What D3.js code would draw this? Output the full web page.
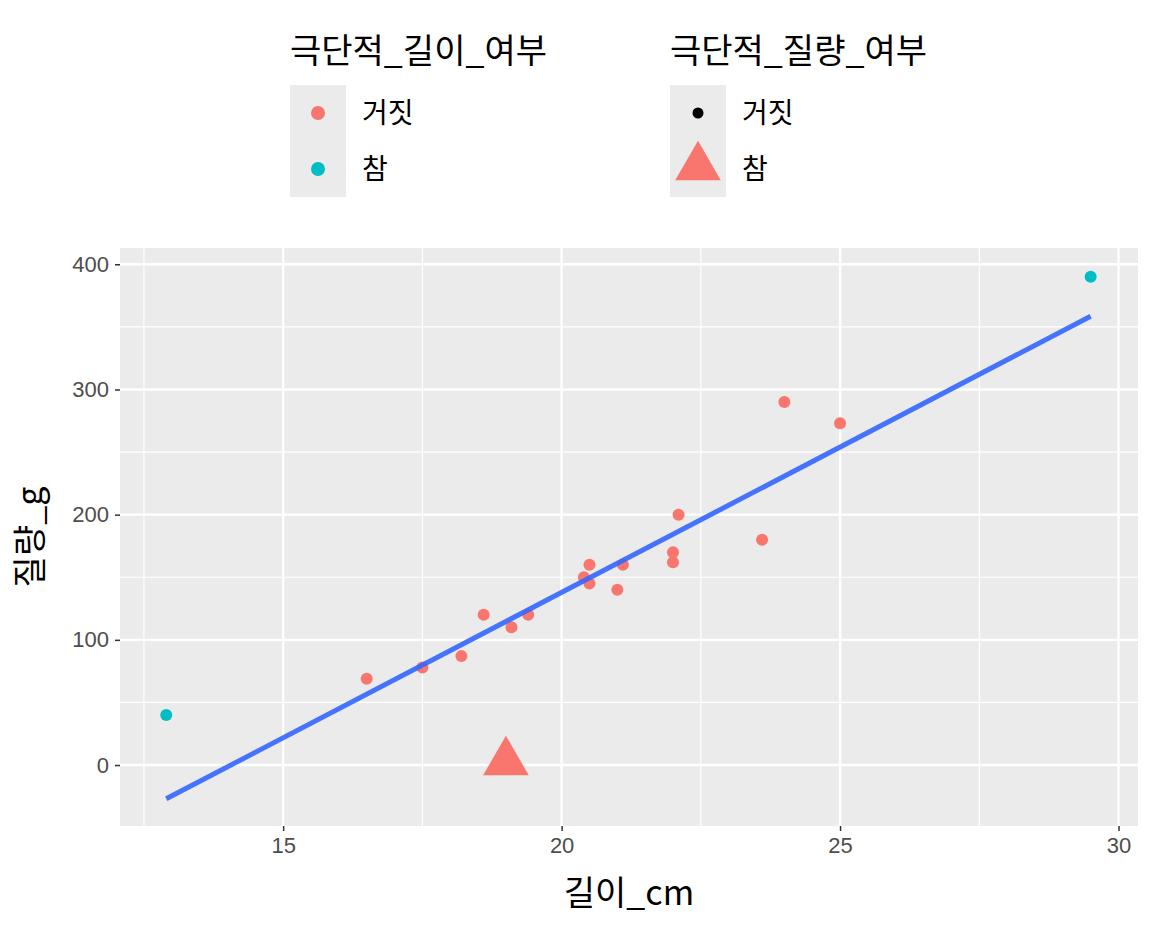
<!doctype html>
<html lang="ko">
<head>
<meta charset="UTF-8">
<script src="https://d3js.org/d3.v7.js"></script>
<style>
 body { margin:0; background:#fff; }
 text { font-family: "Noto Sans CJK KR", "Noto Sans", sans-serif; }
</style>
</head>
<body>
<svg id="cvas" width="1152" height="928"></svg>
<script>
// data
const lengths = [12.9, 29.5, 16.5, 17.5, 18.2, 18.6, 19.1, 19.4, 20.4, 20.5, 20.5, 21.0, 21.1, 22.0, 22.0, 22.1, 23.6, 24.0, 25.0, 19.0];
const weights = [40, 390, 69, 78, 87, 120, 110, 120, 150, 160, 145, 140, 160, 170, 162, 200, 180, 290, 273, 0];
const lengthExtreme = ["참","참","거짓","거짓","거짓","거짓","거짓","거짓","거짓","거짓","거짓","거짓","거짓","거짓","거짓","거짓","거짓","거짓","거짓","거짓"];
const weightExtreme = ["거짓","거짓","거짓","거짓","거짓","거짓","거짓","거짓","거짓","거짓","거짓","거짓","거짓","거짓","거짓","거짓","거짓","거짓","거짓","참"];
const fitEnds = [[12.9, -27], [29.5, 358.5]];
const xTicks = [15, 20, 25, 30];
const yTicks = [0, 100, 200, 300, 400];

const svg = d3.select("#cvas");
const panel = {left: 120, right: 1138, top: 248, bottom: 826};
const x = d3.scaleLinear().domain([12.07, 30.35]).range([panel.left, panel.right]);
const y = d3.scaleLinear().domain([-48.7, 413]).range([panel.bottom, panel.top]);
const colour = d3.scaleOrdinal().domain(["거짓","참"]).range(["#f8766d", "#00bfc4"]);

svg.append("rect").attr("x", panel.left).attr("y", panel.top)
    .attr("width", panel.right - panel.left).attr("height", panel.bottom - panel.top).attr("fill", "#ebebeb");

// minor then major grid
const xMinor = [12.5, 17.5, 22.5, 27.5];
const yMinor = [-50, 50, 150, 250, 350].filter(v => y(v) <= panel.bottom);
xMinor.forEach(v => svg.append("line").attr("x1", x(v)).attr("x2", x(v)).attr("y1", panel.top).attr("y2", panel.bottom).attr("stroke", "#fff").attr("stroke-width", 1.2));
yMinor.forEach(v => svg.append("line").attr("y1", y(v)).attr("y2", y(v)).attr("x1", panel.left).attr("x2", panel.right).attr("stroke", "#fff").attr("stroke-width", 1.2));
xTicks.forEach(v => svg.append("line").attr("x1", x(v)).attr("x2", x(v)).attr("y1", panel.top).attr("y2", panel.bottom).attr("stroke", "#fff").attr("stroke-width", 2.4));
yTicks.forEach(v => svg.append("line").attr("y1", y(v)).attr("y2", y(v)).attr("x1", panel.left).attr("x2", panel.right).attr("stroke", "#fff").attr("stroke-width", 2.4));

// axes
const xAxis = svg.append("g").attr("transform", `translate(0,${panel.bottom})`)
    .call(d3.axisBottom(x).tickValues(xTicks).tickSize(5).tickPadding(6));
const yAxis = svg.append("g").attr("transform", `translate(${panel.left},0)`)
    .call(d3.axisLeft(y).tickValues(yTicks).tickSize(5).tickPadding(6));
[xAxis, yAxis].forEach(a => {
    a.select(".domain").remove();
    a.selectAll("line").attr("stroke", "#333").attr("stroke-width", 1.5);
    a.selectAll("text").attr("fill", "#4d4d4d").style("font-size", "22px")
        .style("font-family", "'Liberation Sans', Arial, sans-serif");
});

svg.append("text").attr("x", (panel.left + panel.right) / 2).attr("y", 905)
    .attr("text-anchor", "middle").style("font-size", "34px").text("길이_cm");
svg.append("text").attr("transform", `translate(42,${(panel.top + panel.bottom) / 2}) rotate(-90)`)
    .attr("text-anchor", "middle").style("font-size", "34px").text("질량_g");

// points
const idx = d3.range(lengths.length);
idx.filter(i => weightExtreme[i] === "거짓").forEach(i => {
    svg.append("circle").attr("cx", x(lengths[i])).attr("cy", y(weights[i])).attr("r", 6)
        .attr("fill", colour(lengthExtreme[i]));
});

// fit line
svg.append("path").attr("d", d3.line().x(d => x(d[0])).y(d => y(d[1]))(fitEnds))
    .attr("stroke", "#3366ff").attr("stroke-width", 5).attr("fill", "none").attr("opacity", 0.9);

const tri = d3.symbol().type(d3.symbolTriangle).size(900);
idx.filter(i => weightExtreme[i] === "참").forEach(i => {
    svg.append("path").attr("d", tri()).attr("transform", `translate(${x(lengths[i])},${y(weights[i]) - 3})`)
        .attr("fill", colour(lengthExtreme[i]));
});

// legends
function legend(x0, title, keys, drawKey) {
    svg.append("text").attr("x", x0).attr("y", 63).style("font-size", "34px").text(title);
    keys.forEach((k, j) => {
        const cy = 113 + j * 56;
        svg.append("rect").attr("x", x0).attr("y", cy - 28).attr("width", 56).attr("height", 56).attr("fill", "#ebebeb");
        drawKey(x0 + 28, cy, k);
        svg.append("text").attr("x", x0 + 72).attr("y", cy + 10).style("font-size", "28px").text(k);
    });
}
legend(290, "극단적_길이_여부", ["거짓", "참"], (cx, cy, k) =>
    svg.append("circle").attr("cx", cx).attr("cy", cy).attr("r", 7).attr("fill", colour(k)));
legend(670, "극단적_질량_여부", ["거짓", "참"], (cx, cy, k) => {
    if (k === "거짓") svg.append("circle").attr("cx", cx).attr("cy", cy).attr("r", 5.5).attr("fill", "#000");
    else svg.append("path").attr("d", tri()).attr("transform", `translate(${cx},${cy - 2})`).attr("fill", "#f8766d");
});
</script>
</body>
</html>
